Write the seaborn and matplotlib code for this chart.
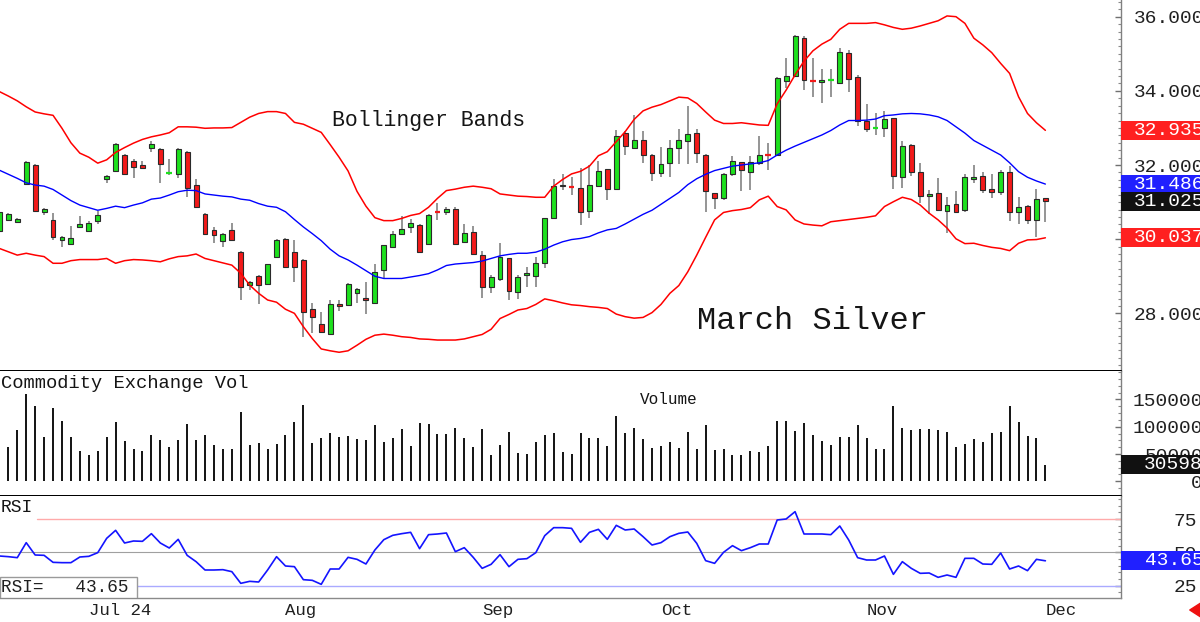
import numpy as np
import pandas as pd
import seaborn as sns
import matplotlib.pyplot as plt
import matplotlib.transforms as mtransforms
from matplotlib.patches import Rectangle, FancyArrowPatch
from matplotlib.ticker import MultipleLocator

# sessions shown on the chart: Jun 14 .. Dec 2, 2024 (exchange holidays dropped)
holidays = pd.to_datetime(["2024-06-19", "2024-07-04", "2024-09-02", "2024-11-28"])
dates = pd.bdate_range("2024-06-14", "2024-12-02")
dates = dates[~dates.isin(holidays)]

# March silver daily candles
opens = [30.22, 30.53, 30.46, 31.49, 32.01, 30.73, 30.51, 29.98, 29.86, 30.33,
         30.21, 30.49, 31.63, 31.85, 32.28, 32.12, 31.99, 32.46, 32.43, 31.75,
         31.75, 32.36, 31.46, 30.69, 30.25, 29.96, 30.25, 29.66, 28.76, 29.01,
         28.79, 29.51, 30.00, 29.66, 29.44, 28.11, 27.71, 27.43, 28.25, 28.22,
         28.56, 28.42, 28.29, 29.17, 29.78, 30.13, 30.34, 30.39, 29.86, 30.76,
         30.72, 30.81, 29.93, 30.19, 29.56, 28.72, 28.93, 29.48, 28.57, 29.03,
         29.02, 29.37, 30.56, 31.47, 31.42, 31.38, 30.77, 31.44, 31.88, 31.35,
         32.87, 32.46, 32.67, 32.27, 31.78, 32.05, 32.45, 32.66, 32.86, 32.27,
         31.24, 31.10, 31.76, 32.07, 31.82, 32.05, 32.28, 32.27, 34.27, 34.40,
         35.42, 34.29, 34.25, 34.26, 34.22, 35.03, 34.38, 33.20, 32.97, 33.01,
         33.26, 31.69, 32.54, 31.82, 31.16, 31.24, 30.77, 30.95, 30.78, 31.61,
         31.70, 31.34, 31.28, 31.82, 30.74, 30.89, 30.52, 31.10]
highs = [30.78, 30.70, 30.56, 32.10, 32.03, 30.83, 30.71, 30.08, 30.35, 30.62,
         30.48, 30.76, 31.72, 32.60, 32.31, 32.17, 32.12, 32.64, 32.45, 32.17,
         32.47, 32.38, 31.61, 30.71, 30.33, 30.17, 30.43, 29.68, 28.87, 29.03,
         29.34, 30.00, 30.02, 29.98, 29.46, 28.27, 28.04, 28.36, 28.36, 28.81,
         28.67, 28.85, 29.32, 29.85, 30.23, 30.62, 30.55, 30.41, 30.68, 30.98,
         30.86, 30.86, 30.41, 30.35, 29.69, 29.03, 29.89, 29.50, 29.03, 29.26,
         29.53, 30.58, 31.62, 31.77, 31.69, 31.92, 32.00, 32.11, 31.90, 32.94,
         32.91, 33.35, 32.93, 32.30, 32.49, 32.67, 32.96, 33.59, 32.96, 32.30,
         31.25, 31.78, 32.24, 32.09, 32.24, 32.78, 32.59, 34.38, 34.88, 35.51,
         35.48, 34.88, 34.58, 34.58, 35.15, 35.10, 34.43, 33.65, 33.39, 33.47,
         33.28, 32.65, 32.56, 32.05, 31.33, 31.64, 31.13, 31.31, 31.77, 32.00,
         31.82, 31.77, 31.87, 31.96, 31.15, 30.92, 31.34, 31.10]
lows = [30.18, 30.51, 30.45, 31.47, 30.75, 30.65, 29.97, 29.78, 29.84, 30.32,
        30.19, 30.42, 31.52, 31.84, 31.75, 31.66, 31.92, 32.36, 31.52, 31.74,
        31.66, 31.13, 30.86, 30.12, 29.90, 29.78, 29.96, 28.36, 28.63, 28.25,
        28.77, 29.49, 29.24, 28.85, 27.37, 27.48, 27.47, 27.41, 28.07, 28.20,
        28.27, 27.98, 28.27, 28.92, 29.77, 30.11, 30.17, 29.63, 29.84, 30.51,
        30.65, 29.87, 29.91, 29.58, 28.42, 28.54, 28.87, 28.36, 28.40, 28.72,
        28.72, 29.22, 30.54, 31.33, 31.19, 30.39, 30.56, 31.42, 31.06, 31.33,
        32.28, 32.44, 32.05, 31.58, 31.69, 31.67, 32.03, 32.03, 32.05, 30.72,
        30.81, 31.05, 31.71, 31.31, 31.33, 32.00, 31.87, 32.25, 34.07, 34.38,
        34.02, 33.83, 33.68, 33.83, 34.20, 33.98, 33.05, 32.89, 32.81, 32.75,
        31.34, 31.37, 31.70, 30.97, 30.68, 30.79, 30.16, 30.70, 30.74, 31.52,
        31.25, 31.12, 31.19, 30.50, 30.41, 30.41, 30.05, 30.47]
closes = [30.74, 30.68, 30.55, 32.08, 30.77, 30.81, 30.07, 30.05, 30.03, 30.40,
          30.43, 30.64, 31.70, 32.58, 31.77, 31.95, 31.93, 32.57, 32.04, 31.78,
          32.42, 31.37, 30.87, 30.14, 30.12, 30.15, 29.97, 28.72, 28.85, 28.76,
          29.32, 29.98, 29.26, 29.24, 28.04, 27.91, 27.49, 28.24, 28.19, 28.79,
          28.65, 28.36, 29.12, 29.83, 30.15, 30.28, 30.43, 29.65, 30.66, 30.74,
          30.81, 29.88, 30.17, 29.60, 28.72, 28.97, 29.53, 28.60, 28.99, 29.09,
          29.37, 30.56, 31.44, 31.43, 31.40, 30.74, 31.46, 31.84, 31.35, 32.78,
          32.50, 32.67, 32.27, 31.78, 32.02, 32.46, 32.67, 32.83, 32.32, 31.31,
          31.10, 31.76, 32.12, 31.87, 32.07, 32.27, 32.26, 34.34, 34.40, 35.48,
          34.29, 34.27, 34.30, 34.28, 35.06, 34.33, 33.20, 32.98, 32.99, 33.23,
          31.71, 32.52, 31.82, 31.17, 31.22, 30.80, 30.92, 30.72, 31.67, 31.69,
          31.33, 31.26, 31.82, 30.74, 30.87, 30.52, 31.07, 31.025]

# Bollinger bands
bb_upper = [33.98, 33.86, 33.73, 33.57, 33.43, 33.38, 33.34, 32.99, 32.60, 32.32,
            32.21, 32.05, 32.14, 32.34, 32.47, 32.59, 32.69, 32.76, 32.81, 32.87,
            33.03, 33.03, 33.02, 32.99, 33.00, 33.00, 33.01, 33.15, 33.29, 33.39,
            33.44, 33.44, 33.39, 33.15, 33.10, 32.99, 32.88, 32.55, 32.21, 31.84,
            31.29, 30.89, 30.58, 30.50, 30.50, 30.56, 30.64, 30.69, 30.86, 31.10,
            31.31, 31.35, 31.40, 31.43, 31.40, 31.36, 31.22, 31.19, 31.16, 31.15,
            31.13, 31.13, 31.43, 31.61, 31.76, 31.83, 31.97, 32.25, 32.36, 32.63,
            32.90, 33.23, 33.46, 33.56, 33.63, 33.73, 33.83, 33.81, 33.66, 33.43,
            33.21, 33.12, 33.12, 33.14, 33.11, 33.08, 33.07, 33.65, 34.02, 34.43,
            34.80, 35.08, 35.26, 35.39, 35.66, 35.82, 35.82, 35.82, 35.84, 35.78,
            35.71, 35.66, 35.69, 35.75, 35.82, 35.89, 36.02, 36.00, 35.82, 35.42,
            35.24, 35.03, 34.74, 34.47, 33.84, 33.39, 33.14, 32.935]
bb_mid = [31.86, 31.75, 31.64, 31.52, 31.46, 31.43, 31.34, 31.19, 31.04, 30.92,
          30.85, 30.78, 30.83, 30.89, 30.85, 30.92, 30.98, 31.08, 31.11, 31.19,
          31.28, 31.32, 31.31, 31.22, 31.19, 31.16, 31.14, 31.08, 31.05, 30.96,
          30.89, 30.86, 30.74, 30.53, 30.33, 30.15, 29.96, 29.73, 29.55, 29.44,
          29.30, 29.15, 29.00, 28.94, 28.94, 28.94, 28.98, 29.02, 29.07, 29.17,
          29.29, 29.33, 29.35, 29.37, 29.41, 29.48, 29.55, 29.59, 29.62, 29.62,
          29.65, 29.73, 29.84, 29.93, 29.99, 30.02, 30.07, 30.17, 30.25, 30.29,
          30.41, 30.54, 30.67, 30.78, 30.94, 31.10, 31.26, 31.47, 31.63, 31.75,
          31.85, 31.91, 31.97, 32.00, 32.03, 32.06, 32.12, 32.27, 32.40, 32.51,
          32.61, 32.71, 32.81, 32.93, 33.08, 33.20, 33.20, 33.21, 33.24, 33.33,
          33.35, 33.38, 33.39, 33.38, 33.35, 33.30, 33.20, 33.03, 32.86, 32.66,
          32.53, 32.40, 32.27, 32.06, 31.82, 31.67, 31.57, 31.486]
bb_lower = [29.75, 29.66, 29.57, 29.62, 29.57, 29.53, 29.35, 29.35, 29.42, 29.45,
            29.45, 29.45, 29.48, 29.35, 29.42, 29.45, 29.44, 29.42, 29.39, 29.47,
            29.53, 29.55, 29.60, 29.48, 29.42, 29.36, 29.30, 29.08, 28.76, 28.54,
            28.36, 28.30, 28.11, 28.00, 27.64, 27.32, 27.04, 26.99, 26.95, 26.99,
            27.14, 27.30, 27.41, 27.44, 27.41, 27.37, 27.35, 27.31, 27.30, 27.28,
            27.28, 27.28, 27.31, 27.37, 27.43, 27.57, 27.86, 27.97, 28.09, 28.13,
            28.24, 28.39, 28.34, 28.28, 28.23, 28.21, 28.18, 28.16, 28.13, 27.98,
            27.91, 27.87, 27.89, 28.02, 28.24, 28.54, 28.75, 29.12, 29.57, 30.05,
            30.52, 30.72, 30.77, 30.80, 30.85, 31.06, 31.16, 30.88, 30.79, 30.52,
            30.41, 30.38, 30.36, 30.47, 30.50, 30.53, 30.56, 30.59, 30.63, 30.88,
            31.01, 31.13, 31.07, 30.92, 30.70, 30.52, 30.30, 30.01, 29.88, 29.89,
            29.83, 29.78, 29.75, 29.69, 29.89, 29.98, 29.99, 30.037]

volume = [70000,
          62270, 93960, 159340, 138470, 80580, 133700, 111000, 81690, 56040, 48170,
          55490, 81690, 108060, 73810, 59160, 55490, 84800, 75640, 63370, 75640,
          104400, 75640, 84800, 66480, 59160, 59160, 127470, 66480, 69600, 59160,
          68310, 84800, 108060, 139740, 69600, 79850, 89010, 80580, 82970, 76920,
          75640, 103110, 72530, 79850, 95240, 64650, 106230, 104400, 86630, 86630,
          97070, 79850, 63370, 95240, 48170, 66480, 90290, 52380, 50000, 72530,
          84800, 87910, 53060, 50000, 89010, 78750, 78750,
          64650, 119600, 87910, 97070, 77470, 61540, 65200, 72530, 61540, 90840,
          59160, 103110, 57330, 59160, 48170, 48170, 55490, 54210, 65200, 110440,
          110440, 92670, 107330, 84800, 74360, 66480, 81690, 80580, 103110, 78750,
          59160, 59160, 138470, 98170, 93960, 96340, 95240, 93960, 89690, 63370,
          68310, 77470, 71430, 87910, 90840, 138470, 109160, 83520, 79850, 30598]

rsi = [47.25,
       46.75, 46.0, 57.25, 48.0, 47.75, 42.5, 42.25, 42.25, 46.5, 47.0,
       49.75, 60.5, 66.5, 57.0, 58.5, 58.25, 64.0, 57.0, 53.25, 59.75,
       47.75, 43.0, 36.75, 36.75, 37.0, 35.5, 26.75, 28.25, 27.75, 36.75,
       46.75, 39.75, 39.25, 29.5, 29.0, 26.0, 37.5, 37.5, 46.25, 44.75,
       41.25, 51.75, 59.5, 62.75, 64.0, 65.0, 52.75, 63.25, 63.75, 64.5,
       50.5, 53.5, 46.25, 38.0, 41.0, 48.25, 39.25, 44.75, 45.25, 49.75,
       62.5, 68.5, 68.5, 68.0, 57.5, 65.0, 67.25,
       59.75, 70.25, 66.75, 67.5, 61.75, 55.5, 57.25, 61.75, 64.25, 65.25,
       56.75, 43.75, 41.75, 50.0, 55.0, 51.25, 53.5, 56.25, 56.25, 74.25,
       75.0, 80.5, 63.75, 63.75, 63.75, 63.25, 69.75, 59.25, 46.0, 44.25,
       44.25, 47.25, 33.5, 43.0, 38.0, 34.25, 34.5, 31.25, 33.0, 31.25,
       45.5, 45.5, 41.25, 41.0, 49.5, 37.5, 39.75, 36.25, 44.75, 43.65]

month_labels = ["Jul 24", "Aug", "Sep", "Oct", "Nov", "Dec"]
price_ticks = [28, 30, 32, 34, 36]
price_tick_labels = ["28.000", "", "32.000", "34.000", "36.000"]  # 30.000 sits under the band box
vol_ticks = [0, 50000, 100000, 150000]
rsi_ticks = [25, 50, 75]

df = pd.DataFrame({"date": dates, "open": opens, "high": highs, "low": lows,
                   "close": closes, "upper": bb_upper, "mid": bb_mid,
                   "lower": bb_lower, "volume": volume, "rsi": rsi})
df["i"] = np.arange(len(df))
month_pos = df.groupby(df["date"].dt.to_period("M"))["i"].min().iloc[1:].tolist()

sns.set_theme(style="white")
plt.rcParams["font.family"] = ["Liberation Mono", "DejaVu Sans Mono"]

# layout in pixels of the 1200x622 picture
W, H = 1200, 622
PLOT_R = 1121
STEP, X0 = 8.94, -0.6  # px per session, px of session 0
fig = plt.figure(figsize=(W / 100, H / 100), dpi=100)


def panel(top, bottom):
    return fig.add_axes([0, 1 - bottom / H, PLOT_R / W, (bottom - top) / H])


ax_p = panel(0, 371)
ax_v = panel(371, 496)
ax_r = panel(496, 598)

GREEN, RED = "#1ee01e", "#f21a1a"

# ---- price panel: candles + bollinger bands
up = df["close"] >= df["open"]
colors = np.where(up, GREEN, RED)
body = (df["close"] - df["open"]).abs()
doji = body < 0.035
ax_p.vlines(df["i"], df["low"], df["high"], color="#8c8c8c", lw=1.3, zorder=2)
ax_p.bar(df["i"][~doji], body[~doji], bottom=np.minimum(df["open"], df["close"])[~doji],
         width=0.55, color=colors[~doji], edgecolor="#2a2a2a", linewidth=0.8, zorder=3)
ax_p.hlines(df["close"][doji], df["i"][doji] - 0.32, df["i"][doji] + 0.32,
            colors=colors[doji], lw=1.6, zorder=3)
sns.lineplot(data=df, x="i", y="upper", ax=ax_p, color="#ff0000", lw=1.1, zorder=4)
sns.lineplot(data=df, x="i", y="lower", ax=ax_p, color="#ff0000", lw=1.1, zorder=4)
sns.lineplot(data=df, x="i", y="mid", ax=ax_p, color="#0000ff", lw=1.0, zorder=4)
ax_p.set_ylim(26.445, 36.45)

# ---- volume panel
ax_v.vlines(df["i"], 0, df["volume"], color="black", lw=1.3)
ax_v.set_ylim(-26900, 202000)

# ---- RSI panel
ax_r.axhline(75, xmin=37 / PLOT_R, color="#ffaaaa", lw=1.0)
ax_r.axhline(50, color="#a0a0a0", lw=0.8)
ax_r.axhline(25, xmin=137 / PLOT_R, color="#aaaaff", lw=1.0)
sns.lineplot(data=df, x="i", y="rsi", ax=ax_r, color="#1414ff", lw=1.2, zorder=4)
ax_r.set_ylim(15.75, 92.25)

xlim = ((0 - X0) / STEP, (PLOT_R - X0) / STEP)
PT = 0.72  # points per pixel
for ax in (ax_p, ax_v, ax_r):
    ax.set_xlim(*xlim)
    ax.set_xlabel("")
    ax.set_ylabel("")
    ax.set_facecolor("white")
    ax.spines["top"].set_visible(False)
    ax.spines["left"].set_visible(False)
    ax.spines["right"].set_color("#808080")
    ax.spines["right"].set_linewidth(1)
    ax.yaxis.tick_right()
for ax in (ax_p, ax_v):
    ax.set_xticks([])
    ax.spines["bottom"].set_color("black")
    ax.spines["bottom"].set_linewidth(2 * PT)
ax_r.spines["bottom"].set_color("#8a8a8a")
ax_r.spines["bottom"].set_linewidth(1)

ax_p.set_yticks(price_ticks, price_tick_labels)
ax_p.yaxis.set_minor_locator(MultipleLocator(0.2))
ax_v.set_yticks(vol_ticks, [str(t) for t in vol_ticks])
ax_v.yaxis.set_minor_locator(MultipleLocator(12500))
ax_r.set_yticks(rsi_ticks, [str(t) for t in rsi_ticks])
ax_r.yaxis.set_minor_locator(MultipleLocator(5))

for ax, right_px in ((ax_p, 1204), (ax_v, 1203), (ax_r, 1197)):
    ax.tick_params(axis="y", which="major", direction="in", length=6 * PT, width=1,
                   color="#707070", pad=(right_px - PLOT_R) * PT, labelsize=14,
                   labelcolor="#202020")
    ax.tick_params(axis="y", which="minor", direction="in", length=3 * PT, width=0.8,
                   color="#8a8a8a")
    for lab in ax.get_yticklabels():
        lab.set_horizontalalignment("right")

# month axis under the RSI panel
ax_r.set_xticks(month_pos, month_labels)
ax_r.tick_params(axis="x", direction="out", length=24 * PT, width=1, color="#9a9a9a",
                 pad=-19 * PT, labelsize=12.5, labelcolor="#202020")
for lab in ax_r.get_xticklabels():
    lab.set_horizontalalignment("left")


# current-value boxes on the right scale
def value_box(ax, panel_px, value, text, face, right_px=1204):
    lo, hi = ax.get_ylim()
    h = 19 * (hi - lo) / panel_px
    trans = mtransforms.blended_transform_factory(ax.transAxes, ax.transData)
    ax.add_patch(Rectangle((1.0, value - h / 2), 0.2, h, transform=trans, facecolor=face,
                           edgecolor="none", clip_on=False, zorder=10))
    ax.text(right_px / PLOT_R, value, text, transform=trans, ha="right", va="center",
            color="white", fontsize=14, clip_on=False, zorder=11)


last = df.iloc[-1]
value_box(ax_p, 371, last["upper"], f"{last['upper']:.3f}", "#ff2020")
value_box(ax_p, 371, last["lower"], f"{last['lower']:.3f}", "#ff2020")
value_box(ax_p, 371, last["mid"], f"{last['mid']:.3f}", "#2020ff")
value_box(ax_p, 371, last["close"], f"{last['close']:.3f}", "#111111")
value_box(ax_v, 125, last["volume"], f"{int(last['volume'])}", "#111111", 1203)
value_box(ax_r, 102, last["rsi"], f"{last['rsi']:.2f}", "#2020ff")

# RSI readout box
ax_r.add_patch(Rectangle((0, 0), 137 / PLOT_R, 21 / 102, transform=ax_r.transAxes,
                         facecolor="white", edgecolor="#9a9a9a", lw=1, zorder=6))
ax_r.text(1 / PLOT_R, 10.5 / 102, f"RSI=   {last['rsi']:.2f}", transform=ax_r.transAxes,
          ha="left", va="center", fontsize=12.8, color="#202020", zorder=7)


def label(x, y, s, size, **kw):
    fig.text(x / W, 1 - y / H, s, fontsize=size, va="center", ha="left",
             color=kw.pop("color", "#151515"), **kw)


label(332, 121, "Bollinger Bands", 15.5)
label(697, 321, "March Silver", 23)
label(1, 383, "Commodity Exchange Vol", 13.5)
label(640, 400, "Volume", 11.5)
label(1, 508, "RSI", 13)

fig.patches.append(FancyArrowPatch((1207 / W, 12 / H), (1187 / W, 12 / H),
                                   transform=fig.transFigure, figure=fig,
                                   arrowstyle="simple,head_width=0.9,head_length=0.7",
                                   mutation_scale=12, color="#ee1111"))

fig.savefig("out.png", dpi=100, facecolor="white")
